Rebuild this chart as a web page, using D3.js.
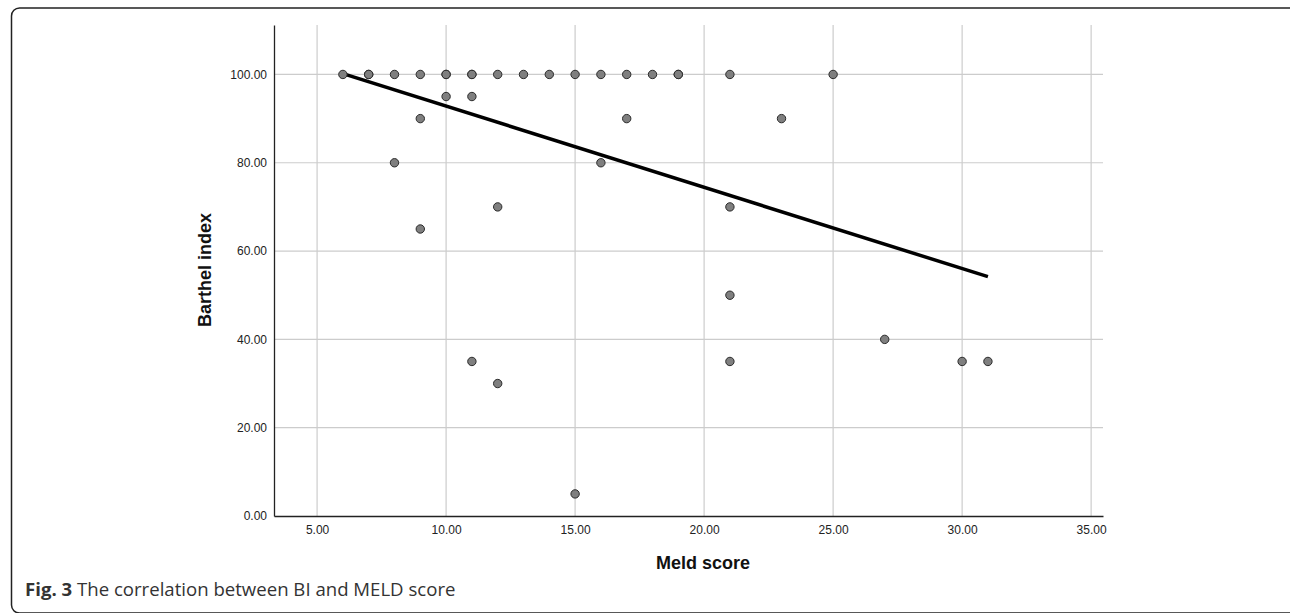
<!DOCTYPE html>
<html>
<head>
<meta charset="utf-8">
<script src="https://cdn.jsdelivr.net/npm/d3@7"></script>
<style>
  body { margin: 0; background: #fff; }
  svg { display: block; }
</style>
</head>
<body>
<script>
// Width and height
var w = 1290;
var h = 613;

// MELD score (x) and Barthel index (y) for each patient
var meld    = [6, 7, 7, 8, 9, 10, 10, 11, 11, 12, 13, 14, 15, 16, 17, 18, 19, 19, 21, 25,
               10, 11, 9, 17, 23, 8, 16, 12, 21, 9, 21, 27, 11, 21, 30, 31, 12, 15];
var barthel = [100, 100, 100, 100, 100, 100, 100, 100, 100, 100, 100, 100, 100, 100, 100, 100, 100, 100, 100, 100,
               95, 95, 90, 90, 90, 80, 80, 70, 70, 65, 50, 40, 35, 35, 35, 35, 30, 5];

// fit line end points
var fitX = [6, 31];
var fitY = [100.2, 54.2];

var xTicks = [5, 10, 15, 20, 25, 30, 35];
var yTicks = [0, 20, 40, 60, 80, 100];

var points = meld.map(function(d, i) { return { x: d, y: barthel[i] }; });
var fit = fitX.map(function(d, i) { return { x: d, y: fitY[i] }; });

var plotLeft = 274, plotRight = 1103, plotTop = 25, plotBottom = 516;

var x = d3.scaleLinear().domain([3.33, 35.46]).range([plotLeft, plotRight]);
var y = d3.scaleLinear().domain([0, 111.2]).range([plotBottom, plotTop]);

var svg = d3.select("body")
    .append("svg")
    .attr("width", w)
    .attr("height", h);

// figure frame
svg.append("rect")
    .attr("x", 11.5)
    .attr("y", 8)
    .attr("width", 1290)
    .attr("height", 605)
    .attr("rx", 8)
    .attr("fill", "none")
    .attr("stroke", "#222")
    .attr("stroke-width", 1.5);

// grid lines
svg.selectAll(".vgrid")
    .data(xTicks)
    .enter()
    .append("line")
    .attr("class", "vgrid")
    .attr("x1", function(d) { return x(d); })
    .attr("x2", function(d) { return x(d); })
    .attr("y1", plotTop)
    .attr("y2", plotBottom)
    .attr("stroke", "#cccccc")
    .attr("stroke-width", 1.2);

svg.selectAll(".hgrid")
    .data(yTicks.filter(function(d) { return d > 0; }))
    .enter()
    .append("line")
    .attr("class", "hgrid")
    .attr("x1", plotLeft)
    .attr("x2", plotRight)
    .attr("y1", function(d) { return y(d); })
    .attr("y2", function(d) { return y(d); })
    .attr("stroke", "#cccccc")
    .attr("stroke-width", 1.2);

// axes
var xAxis = d3.axisBottom(x)
    .tickValues(xTicks)
    .tickSize(0)
    .tickPadding(9)
    .tickFormat(d3.format(".2f"));

var yAxis = d3.axisLeft(y)
    .tickValues(yTicks)
    .tickSize(0)
    .tickPadding(7)
    .tickFormat(d3.format(".2f"));

var gx = svg.append("g")
    .attr("transform", "translate(0," + plotBottom + ")")
    .call(xAxis);

var gy = svg.append("g")
    .attr("transform", "translate(" + plotLeft + ",0)")
    .call(yAxis);

[gx, gy].forEach(function(g) {
  g.select(".domain").attr("stroke", "#222").attr("stroke-width", 1.3);
  g.selectAll("text")
    .attr("font-family", "'Liberation Sans', Arial, sans-serif")
    .attr("font-size", "12px")
    .attr("fill", "#222");
});

// fit line
svg.append("path")
    .datum(fit)
    .attr("fill", "none")
    .attr("stroke", "#000")
    .attr("stroke-width", 3.5)
    .attr("d", d3.line()
        .x(function(d) { return x(d.x); })
        .y(function(d) { return y(d.y); }));

// points
svg.selectAll(".dot")
    .data(points)
    .enter()
    .append("circle")
    .attr("class", "dot")
    .attr("cx", function(d) { return x(d.x); })
    .attr("cy", function(d) { return y(d.y); })
    .attr("r", 4.2)
    .attr("fill", "#7f7f7f")
    .attr("stroke", "#2a2a2a")
    .attr("stroke-width", 1);

// axis titles
svg.append("text")
    .attr("x", 703)
    .attr("y", 569)
    .attr("text-anchor", "middle")
    .attr("font-family", "'Liberation Sans', Arial, sans-serif")
    .attr("font-weight", "bold")
    .attr("font-size", "18px")
    .attr("fill", "#111")
    .text("Meld score");

svg.append("text")
    .attr("transform", "translate(211,270) rotate(-90)")
    .attr("text-anchor", "middle")
    .attr("font-family", "'Liberation Sans', Arial, sans-serif")
    .attr("font-weight", "bold")
    .attr("font-size", "18px")
    .attr("fill", "#111")
    .text("Barthel index");

// caption
var cap = svg.append("text")
    .attr("x", 25)
    .attr("y", 596)
    .attr("font-family", "'Open Sans', 'Noto Sans', sans-serif")
    .attr("font-size", "18.6px")
    .attr("fill", "#333");
cap.append("tspan").attr("font-weight", "bold").text("Fig. 3");
cap.append("tspan").text(" The correlation between BI and MELD score");
</script>
</body>
</html>
